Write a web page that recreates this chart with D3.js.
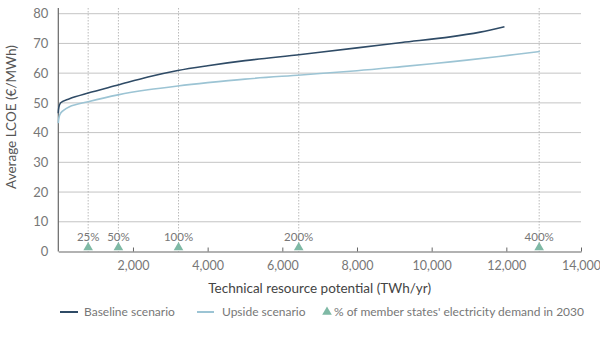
<!DOCTYPE html>
<html><head><meta charset="utf-8">
<script src="https://cdn.jsdelivr.net/npm/d3@7"></script>
<style>body{margin:0;background:#fff}svg text{font-family:"Lato","Open Sans",sans-serif}</style>
</head><body><svg id="c" width="600" height="342"></svg>
<script>
const baselineX = [0,60,300,800,1600,2400,3200,4000,5000,6500,8000,9200,10500,11300,11950];
const baselineY = [46.5,50,51.4,53.3,56.0,58.7,60.9,62.5,64.2,66.3,68.5,70.3,72.2,73.8,75.6];
const upsideX = [0,60,300,800,1600,2400,3200,4000,5000,6500,8000,9200,10500,11800,12900];
const upsideY = [43.2,46.5,48.7,50.4,52.7,54.4,55.7,56.8,58.0,59.4,60.8,62.2,63.8,65.6,67.3];
const demandLabels = ["25%","50%","100%","200%","400%"];
const demandX = [800,1610,3220,6440,12880];
const xTicks = [2000,4000,6000,8000,10000,12000,14000];
const yTicks = [0,10,20,30,40,50,60,70,80];

const svg = d3.select("#c");
const x = d3.scaleLinear().domain([0,14000]).range([58.3,581]);
const y = d3.scaleLinear().domain([0,80]).range([251.5,13.7]);
const grey = "#777";

svg.append("g").selectAll("line").data(yTicks.filter(d=>d>0)).join("line")
  .attr("x1",x(0)).attr("x2",x(14000)).attr("y1",d=>y(d)).attr("y2",d=>y(d))
  .attr("stroke","#c4c4c4").attr("stroke-width",1);

svg.append("g").selectAll("line").data(demandX).join("line")
  .attr("x1",d=>x(d)).attr("x2",d=>x(d)).attr("y1",8).attr("y2",y(0))
  .attr("stroke","#aaa").attr("stroke-width",0.8).attr("stroke-dasharray","1.5,1.5");

const ya = svg.append("g").attr("transform",`translate(${x(0)},0)`)
  .call(d3.axisLeft(y).tickValues(yTicks).tickSize(0).tickPadding(10));
ya.select(".domain").remove();
ya.selectAll("text").attr("fill",grey).attr("font-size",13);
svg.append("line").attr("x1",x(0)).attr("x2",x(0)).attr("y1",8).attr("y2",y(0))
  .attr("stroke","#666").attr("stroke-width",1.2);

const xa = svg.append("g").attr("transform",`translate(0,${y(0)})`)
  .call(d3.axisBottom(x).tickValues(xTicks).tickFormat(d3.format(",")).tickSizeInner(-4).tickSizeOuter(0).tickPadding(10));
xa.select(".domain").attr("stroke","#666").attr("stroke-width",1.2);
xa.selectAll(".tick line").attr("stroke","#666");
xa.selectAll("text").attr("fill",grey).attr("font-size",12.5);

const line = d3.line().curve(d3.curveCatmullRom.alpha(0.5));
svg.append("path").attr("d",line(upsideX.map((d,i)=>[x(d),y(upsideY[i])])))
  .attr("fill","none").attr("stroke","#9cc4d4").attr("stroke-width",1.6);
svg.append("path").attr("d",line(baselineX.map((d,i)=>[x(d),y(baselineY[i])])))
  .attr("fill","none").attr("stroke","#2f4b66").attr("stroke-width",1.6);

const tri = d3.symbol().type(d3.symbolTriangle).size(40);
svg.append("g").selectAll("path").data(demandX).join("path")
  .attr("d",tri).attr("transform",d=>`translate(${x(d)},${y(0)-4})`).attr("fill","#7fb9a5");
svg.append("g").selectAll("text").data(demandX).join("text")
  .attr("x",d=>x(d)).attr("y",241).attr("text-anchor","middle")
  .attr("fill",grey).attr("font-size",11.5).text((d,i)=>demandLabels[i]);

svg.append("text").attr("x",x(7000)).attr("y",293).attr("text-anchor","middle")
  .attr("fill","#444").attr("font-size",13.5).text("Technical resource potential (TWh/yr)");
svg.append("text").attr("transform","translate(16,117) rotate(-90)").attr("text-anchor","middle")
  .attr("fill","#555").attr("font-size",13.5).text("Average LCOE (€/MWh)");

const lg = svg.append("g");
lg.append("line").attr("x1",60).attr("x2",78).attr("y1",312).attr("y2",312).attr("stroke","#2f4b66").attr("stroke-width",2);
lg.append("text").attr("x",84).attr("y",316).attr("fill",grey).attr("font-size",12).text("Baseline scenario");
lg.append("line").attr("x1",197).attr("x2",214).attr("y1",312).attr("y2",312).attr("stroke","#9cc4d4").attr("stroke-width",2);
lg.append("text").attr("x",222).attr("y",316).attr("fill",grey).attr("font-size",12).text("Upside scenario");
lg.append("path").attr("d",tri).attr("transform","translate(327,312)").attr("fill","#7fb9a5");
lg.append("text").attr("x",334).attr("y",316).attr("fill",grey).attr("font-size",12).text("% of member states' electricity demand in 2030");
</script></body></html>
